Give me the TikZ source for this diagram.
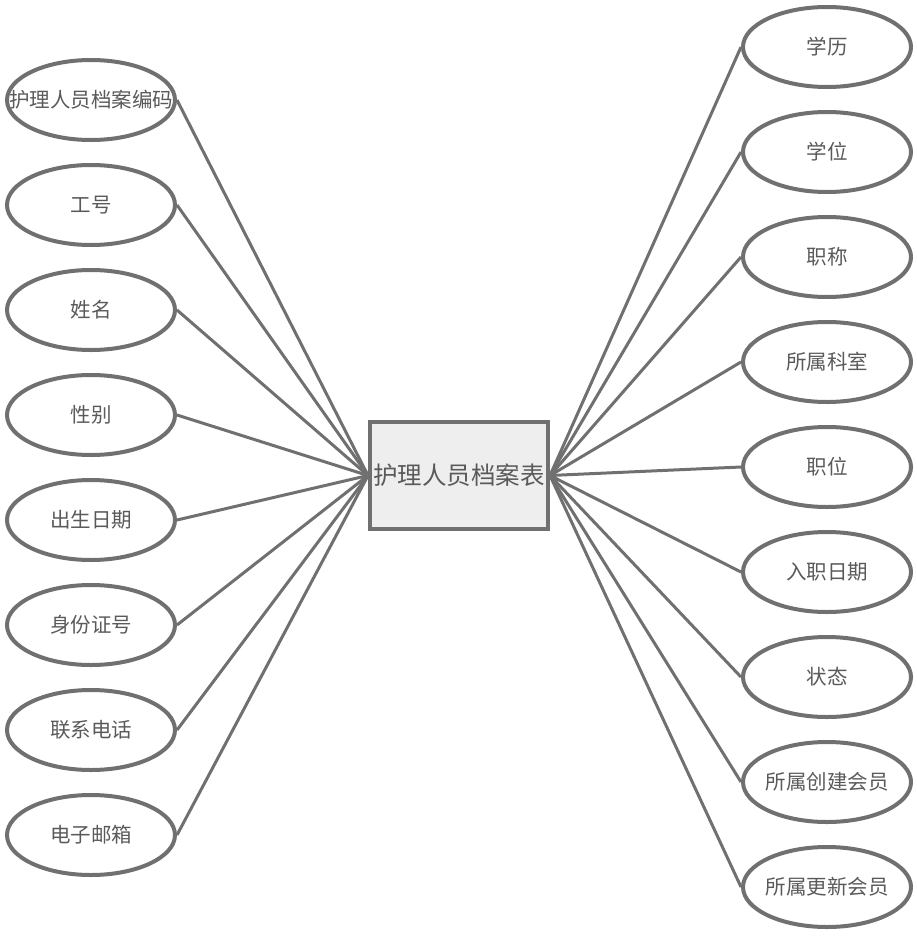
\documentclass[tikz,border=0pt]{standalone}
\usepackage{fontspec}
\setmainfont{Noto Sans CJK SC}
\usetikzlibrary{shapes.geometric}
\definecolor{edgegray}{HTML}{707070}
\definecolor{txtgray}{HTML}{5A5A5A}
\definecolor{boxfill}{HTML}{EEEEEE}
\newcommand{\zw}[1]{\makebox[0pt][c]{#1}}
\tikzset{
  attr/.style={ellipse, draw=edgegray, line width=4pt, fill=white,
    minimum width=168pt, minimum height=80pt, inner sep=0pt,
    text=txtgray, font=\fontsize{20.5pt}{24pt}\selectfont},
  entity/.style={rectangle, draw=edgegray, line width=4pt, fill=boxfill,
    minimum width=178pt, minimum height=107pt, inner sep=0pt,
    text=txtgray, font=\fontsize{24.5pt}{28pt}\selectfont},
  link/.style={draw=edgegray, line width=3pt}
}
\begin{document}
\begin{tikzpicture}[x=1pt,y=-1pt]
\useasboundingbox (0,0) rectangle (917,951);
\node[entity] (E) at (459,475.5) {护理人员档案表};
% left attributes
\node[attr] (L1) at (91,100) {\zw{护理人员档案编码}};
\node[attr] (L2) at (91,205) {\zw{工号}};
\node[attr] (L3) at (91,310) {\zw{姓名}};
\node[attr] (L4) at (91,415) {\zw{性别}};
\node[attr] (L5) at (91,520) {\zw{出生日期}};
\node[attr] (L6) at (91,625) {\zw{身份证号}};
\node[attr] (L7) at (91,730) {\zw{联系电话}};
\node[attr] (L8) at (91,835) {\zw{电子邮箱}};
% right attributes
\node[attr] (R1) at (827,47) {\zw{学历}};
\node[attr] (R2) at (827,152) {\zw{学位}};
\node[attr] (R3) at (827,257) {\zw{职称}};
\node[attr] (R4) at (827,362) {\zw{所属科室}};
\node[attr] (R5) at (827,467) {\zw{职位}};
\node[attr] (R6) at (827,572) {\zw{入职日期}};
\node[attr] (R7) at (827,677) {\zw{状态}};
\node[attr] (R8) at (827,782) {\zw{所属创建会员}};
\node[attr] (R9) at (827,887) {\zw{所属更新会员}};
\foreach \i in {1,...,8} \draw[link] (E.west) -- (L\i.east);
\foreach \i in {1,...,9} \draw[link] (E.east) -- (R\i.west);
\end{tikzpicture}
\end{document}
